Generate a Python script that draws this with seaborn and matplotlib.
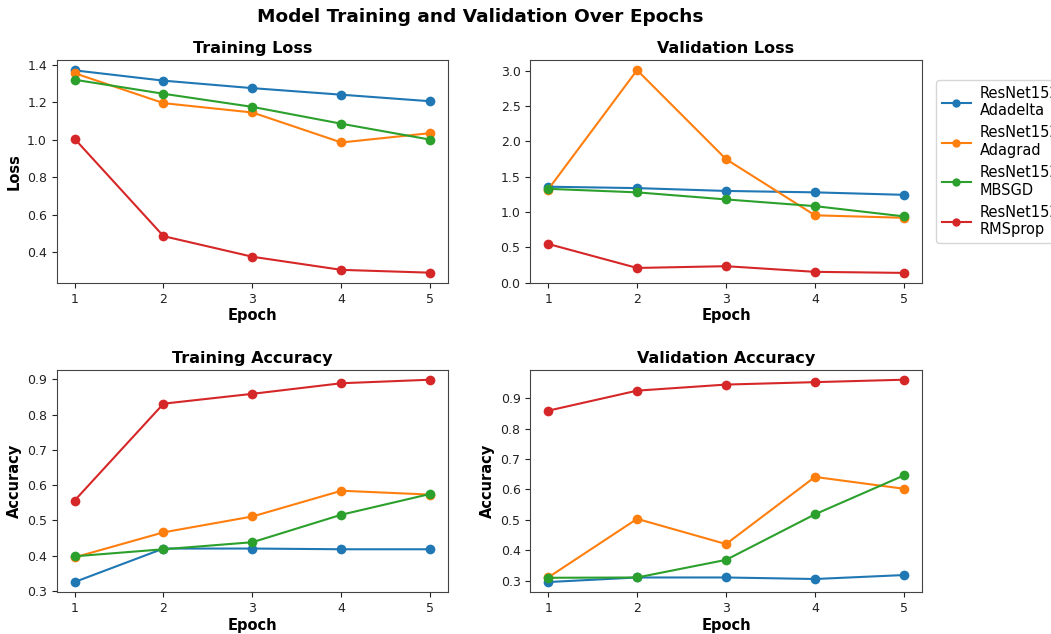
import matplotlib
matplotlib.use("Agg")
import matplotlib.pyplot as plt
import seaborn as sns
import pandas as pd

epochs = [1, 2, 3, 4, 5]
models = ["ResNet152\nAdadelta", "ResNet152\nAdagrad", "ResNet152\nMBSGD", "ResNet152\nRMSprop"]

train_loss_adadelta = [1.37, 1.315, 1.275, 1.24, 1.205]
train_loss_adagrad = [1.355, 1.195, 1.145, 0.985, 1.035]
train_loss_mbsgd = [1.32, 1.245, 1.175, 1.085, 1.0]
train_loss_rmsprop = [1.005, 0.485, 0.375, 0.305, 0.29]

val_loss_adadelta = [1.36, 1.34, 1.30, 1.28, 1.245]
val_loss_adagrad = [1.32, 3.01, 1.75, 0.955, 0.92]
val_loss_mbsgd = [1.33, 1.28, 1.18, 1.085, 0.94]
val_loss_rmsprop = [0.55, 0.21, 0.235, 0.155, 0.14]

train_acc_adadelta = [0.325, 0.42, 0.42, 0.418, 0.418]
train_acc_adagrad = [0.395, 0.466, 0.511, 0.584, 0.573]
train_acc_mbsgd = [0.398, 0.418, 0.438, 0.516, 0.575]
train_acc_rmsprop = [0.556, 0.831, 0.859, 0.889, 0.899]

val_acc_adadelta = [0.295, 0.31, 0.31, 0.305, 0.318]
val_acc_adagrad = [0.31, 0.503, 0.42, 0.641, 0.602]
val_acc_mbsgd = [0.309, 0.31, 0.368, 0.518, 0.646]
val_acc_rmsprop = [0.859, 0.925, 0.945, 0.953, 0.961]

panels = [
    ("Training Loss", "Loss", [train_loss_adadelta, train_loss_adagrad, train_loss_mbsgd, train_loss_rmsprop]),
    ("Validation Loss", None, [val_loss_adadelta, val_loss_adagrad, val_loss_mbsgd, val_loss_rmsprop]),
    ("Training Accuracy", "Accuracy", [train_acc_adadelta, train_acc_adagrad, train_acc_mbsgd, train_acc_rmsprop]),
    ("Validation Accuracy", "Accuracy", [val_acc_adadelta, val_acc_adagrad, val_acc_mbsgd, val_acc_rmsprop]),
]

palette = sns.color_palette("tab10", 4)

fig, axes = plt.subplots(2, 2, figsize=(10.51, 6.34), dpi=100)
fig.subplots_adjust(left=0.054, right=0.877, top=0.905, bottom=0.066, hspace=0.39, wspace=0.21)

for ax, (title, ylabel, series) in zip(axes.flat, panels):
    rows = []
    for m, vals in zip(models, series):
        for e, v in zip(epochs, vals):
            rows.append({"Epoch": e, "Value": v, "Model": m})
    df = pd.DataFrame(rows)
    sns.lineplot(data=df, x="Epoch", y="Value", hue="Model", palette=palette,
                 marker="o", markersize=7, markeredgewidth=0, linewidth=1.5,
                 ax=ax, legend=False)
    ax.set_title(title, fontsize=11.5, fontweight="bold", pad=5)
    ax.set_xlabel("Epoch", fontsize=10.5, fontweight="bold", labelpad=2)
    ax.set_ylabel(ylabel if ylabel else "", fontsize=10.5, fontweight="bold")
    ax.set_xticks(epochs)
    ax.tick_params(labelsize=9, colors="#222222")
    for s in ax.spines.values():
        s.set_color("#444444")

axes[0, 1].set_ylim(0, 3.15)

handles = [plt.Line2D([], [], color=c, marker="o", markersize=6, markeredgewidth=0, linewidth=1.5) for c in palette]
fig.legend(handles, models, loc="upper left", bbox_to_anchor=(0.8906, 0.874), fontsize=10.5,
           frameon=True, borderaxespad=0, handletextpad=0.6)

fig.suptitle("Model Training and Validation Over Epochs", fontsize=13.3, fontweight="bold",
             x=0.457, y=0.988)
fig.savefig("out.png", dpi=100)
